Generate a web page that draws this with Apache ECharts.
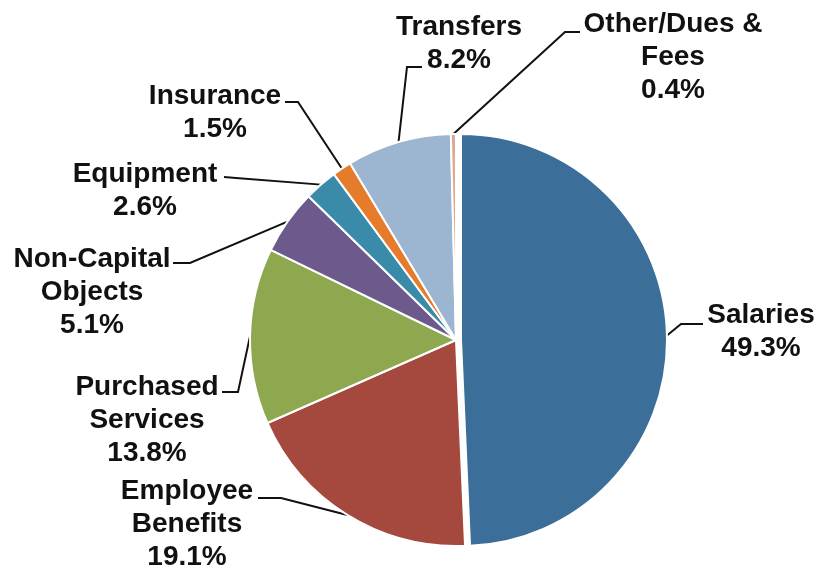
<!DOCTYPE html>
<html>
<head>
<meta charset="utf-8">
<script src="https://cdn.jsdelivr.net/npm/echarts@6/dist/echarts.min.js"></script>
<style>
html,body{margin:0;padding:0;background:#fff;}
#chart{width:822px;height:572px;}
</style>
</head>
<body>
<div id="chart"></div>
<script>
const categories = ['Salaries','Employee\nBenefits','Purchased\nServices','Non-Capital\nObjects','Equipment','Insurance','Transfers','Other/Dues &\nFees'];
const values = [49.3,19.1,13.8,5.1,2.6,1.5,8.2,0.4];
const colors = ['#3B6E99','#A5483E','#8EA84F','#6D5A8C','#3A8BAA','#E47C2C','#9CB5D1','#DDAA90'];
const explodedIndex = 0;

// label placement (layout only)
const labelCenters = [[761,332],[187,524],[147,420],[92,292],[145,191],[215,113],[459,44],[673,57]];
const leaderElbows = [
  [[681,324],[703,324]],
  [[281,498],[258,498]],
  [[238,392],[222,392]],
  [[190,263],[173,263]],
  [[236,178],[224,177]],
  [[298,102],[285,102]],
  [[407,67],[422,67]],
  [[565,32],[580,32]]
];

const labelStyle = {
  show:true,
  position:'outside',
  formatter:p=>p.name+'\n'+p.value.toFixed(1)+'%',
  fontFamily:'Liberation Sans, Arial, sans-serif',
  fontWeight:'bold',
  fontSize:28,
  lineHeight:33,
  color:'#111',
  align:'center'
};
function layoutFn(params){
  const i = params.dataIndex;
  const c = labelCenters[i];
  const e = leaderElbows[i];
  const p0 = (params.labelLinePoints && params.labelLinePoints[0]) ? params.labelLinePoints[0] : e[0];
  return {x:c[0],y:c[1],align:'center',verticalAlign:'middle',labelLinePoints:[p0,e[0],e[1]]};
}
function makeData(showExploded){
  return categories.map((n,i)=>{
    const visible = (i===explodedIndex) === showExploded;
    return {
      name:n,value:values[i],
      itemStyle: visible ? {color:colors[i],borderColor:'#fff',borderWidth:2} : {color:'rgba(0,0,0,0)',borderWidth:0},
      label:{show:visible},
      labelLine:{show:visible}
    };
  });
}
const common = {
  type:'pie',radius:206,startAngle:90,clockwise:true,avoidLabelOverlap:false,
  selectedMode:false,emphasis:{disabled:true},silent:true,
  label:labelStyle,
  labelLine:{show:true,length:15,length2:15,lineStyle:{color:'#111',width:2}},
  labelLayout:layoutFn
};
const chart = echarts.init(document.getElementById('chart'));
chart.setOption({
  backgroundColor:'#fff',
  animation:false,
  series:[
    Object.assign({},common,{center:[461,340],data:makeData(true)}),
    Object.assign({},common,{center:[456,340],data:makeData(false)})
  ]
});
</script>
</body>
</html>
